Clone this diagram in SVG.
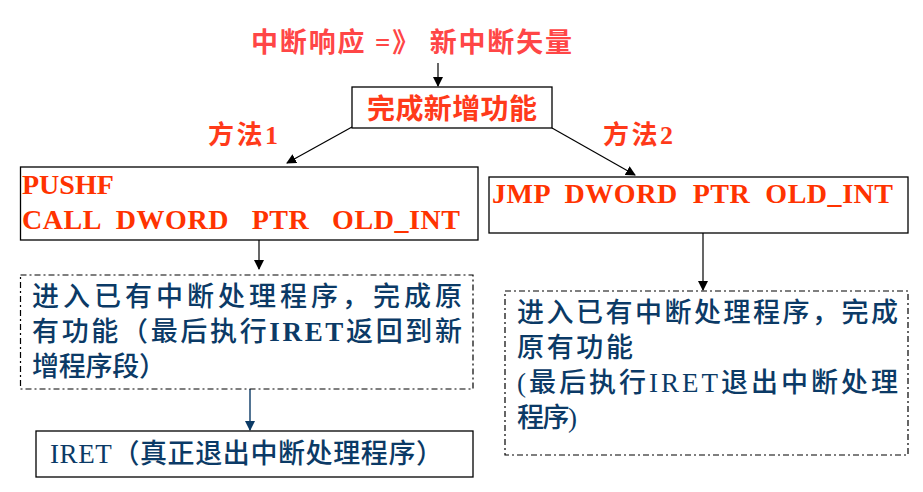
<svg xmlns="http://www.w3.org/2000/svg" width="923" height="492" viewBox="0 0 923 492">
<style>
.cjk{font-family:"Liberation Serif","Noto Sans CJK SC",serif;}
.red{fill:#ff3a1a;font-weight:bold;}
.title{fill:#ff4646;font-weight:bold;}
.code{font-family:"Liberation Serif",serif;font-weight:bold;fill:#ff3300;font-size:28px;}
.blue{fill:#0b3a66;font-size:27px;font-weight:500;}
.box{fill:#fff;stroke:#000;stroke-width:1.3;}
.dash{fill:#fff;stroke:#000;stroke-width:1.2;stroke-dasharray:6 3 2 3;}
.conn{stroke:#000;stroke-width:1.2;fill:none;}
</style>
<defs>
<marker id="ah" markerWidth="10" markerHeight="10" refX="9" refY="5" orient="auto" markerUnits="userSpaceOnUse">
<path d="M0,0 L10,5 L0,10 z" fill="#000"/>
</marker>
<marker id="ahb" markerWidth="10" markerHeight="10" refX="9" refY="5" orient="auto" markerUnits="userSpaceOnUse">
<path d="M0,0 L10,5 L0,10 z" fill="#0b3a66"/>
</marker>
</defs>
<rect width="923" height="492" fill="#fff"/>

<g id="title">
<text class="cjk title" x="251" y="52" font-size="27" textLength="321" lengthAdjust="spacing">中断响应 =》 新中断矢量</text>
</g>

<g id="connectors">
<line class="conn" x1="438" y1="63" x2="438" y2="86" marker-end="url(#ah)"/>
<line class="conn" x1="352" y1="127" x2="287" y2="163" marker-end="url(#ah)"/>
<line class="conn" x1="552" y1="128" x2="635" y2="175" marker-end="url(#ah)"/>
<line class="conn" x1="259" y1="240" x2="259" y2="269" marker-end="url(#ah)"/>
<line class="conn" x1="703" y1="233" x2="703" y2="290" marker-end="url(#ah)"/>
<line x1="250" y1="389" x2="250" y2="430" stroke="#0b3a66" stroke-width="1.4" marker-end="url(#ahb)"/>
</g>

<g id="label-m1">
<text class="cjk red" x="208" y="144" font-size="26" textLength="70" lengthAdjust="spacing">方法1</text>
</g>
<g id="label-m2">
<text class="cjk red" x="603" y="144" font-size="26" textLength="70" lengthAdjust="spacing">方法2</text>
</g>

<g id="new-func">
<rect class="box" x="352" y="87" width="200" height="41"/>
<text class="cjk red" x="367" y="119" font-size="28" textLength="170" lengthAdjust="spacing">完成新增功能</text>
</g>

<g id="pushf">
<rect class="box" x="20.5" y="167" width="457.5" height="73"/>
<text class="code" x="22" y="194">PUSHF</text>
<text class="code" x="22" y="229" textLength="438" lengthAdjust="spacing" xml:space="preserve">CALL  DWORD   PTR   OLD_INT</text>
</g>

<g id="jmp">
<rect class="box" x="489" y="177" width="419" height="56"/>
<text class="code" x="492" y="203" font-size="27" textLength="401" lengthAdjust="spacing" xml:space="preserve">JMP  DWORD  PTR  OLD_INT</text>
</g>

<g id="orig-left">
<rect class="dash" x="20.5" y="275" width="452.5" height="114"/>
<text class="cjk blue" x="32" y="306" textLength="430" lengthAdjust="spacing">进入已有中断处理程序，完成原</text>
<text class="cjk blue" x="32" y="341" textLength="430" lengthAdjust="spacing">有功能（最后执行<tspan font-weight="bold">IRET</tspan>返回到新</text>
<text class="cjk blue" x="32" y="376" textLength="134" lengthAdjust="spacing">增程序段）</text>
</g>

<g id="orig-right">
<rect class="dash" x="505" y="291" width="403" height="164"/>
<text class="cjk blue" x="517" y="322" textLength="381" lengthAdjust="spacing">进入已有中断处理程序，完成</text>
<text class="cjk blue" x="517" y="357" textLength="116" lengthAdjust="spacing">原有功能</text>
<text class="cjk blue" x="517" y="392" textLength="381" lengthAdjust="spacing">(最后执行IRET退出中断处理</text>
<text class="cjk blue" x="517" y="427" textLength="60" lengthAdjust="spacing">程序)</text>
</g>

<g id="iret">
<rect class="box" x="36" y="431" width="437" height="46"/>
<text class="cjk blue" x="50" y="463" textLength="393" lengthAdjust="spacing">IRET（真正退出中断处理程序）</text>
</g>
</svg>
